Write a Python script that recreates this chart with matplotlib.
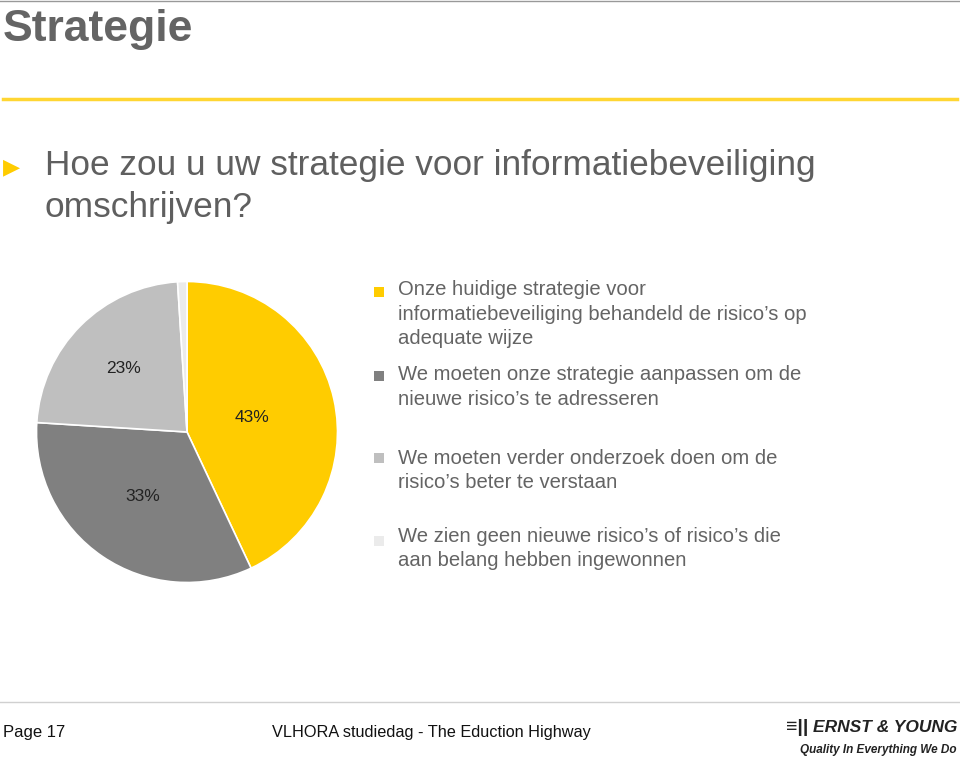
import matplotlib
matplotlib.use("Agg")
import matplotlib.pyplot as plt
from matplotlib.patches import Rectangle
import numpy as np

plt.rcParams['font.family'] = ['Liberation Sans', 'DejaVu Sans']

# Data
answers = [
    "Onze huidige strategie voor\ninformatiebeveiliging behandeld de risico\u2019s op\nadequate wijze",
    "We moeten onze strategie aanpassen om de\nnieuwe risico\u2019s te adresseren",
    "We moeten verder onderzoek doen om de\nrisico\u2019s beter te verstaan",
    "We zien geen nieuwe risico\u2019s of risico\u2019s die\naan belang hebben ingewonnen",
]
shares = [43, 33, 23, 1]
colors = ["#FFCC00", "#808080", "#BFBFBF", "#EBEBEB"]
label_dist = [0.44, 0.52, 0.6, 0.6]

W, H = 960, 759
fig = plt.figure(figsize=(9.6, 7.59), dpi=100)

def fx(px):
    return px / W

def fy(py):
    return 1 - py / H

# header
fig.add_artist(plt.Line2D([0, 1], [fy(1), fy(1)], color="#999999", lw=1))
fig.text(fx(3), fy(29), "Strategie", fontsize=32, fontweight="bold",
         color="#646464", va="center", ha="left")
fig.add_artist(plt.Line2D([fx(3), fx(957)], [fy(99), fy(99)], color="#FFD633", lw=2.5))

fig.text(fx(3), fy(167), "\u25B6", fontsize=16, color="#FFCC00", va="center",
         family=['DejaVu Sans'])
fig.text(fx(45), fy(165), "Hoe zou u uw strategie voor informatiebeveiliging",
         fontsize=25.4, color="#5F5F5F", va="center")
fig.text(fx(45), fy(208), "omschrijven?", fontsize=25.4, color="#5F5F5F", va="center")

# pie
cx, cy, r = 187, 432, 152
ax = fig.add_axes([fx(cx - r), fy(cy + r), 2 * r / W, 2 * r / H])
wedges, _, pcts = ax.pie(shares, colors=colors, startangle=90, counterclock=False,
                         autopct=lambda p: f"{p:.0f}%" if p > 5 else "",
                         wedgeprops=dict(edgecolor="white", linewidth=1.2),
                         textprops=dict(fontsize=12.5, color="#222222"))
for w, t, d in zip(wedges, pcts, label_dist):
    ang = np.deg2rad((w.theta1 + w.theta2) / 2)
    t.set_position((d * np.cos(ang), d * np.sin(ang)))
ax.set_xlim(-1.01, 1.01)
ax.set_ylim(-1.01, 1.01)
ax.set_aspect("equal")
ax.axis("off")

# legend
line_h = 24.5
starts = [290, 375, 458, 536]
marker_y = [292, 376, 458, 541]
for txt, col, y0, my in zip(answers, colors, starts, marker_y):
    fig.add_artist(Rectangle((fx(374), fy(my + 5)), 10 / W, 10 / H,
                             facecolor=col, edgecolor="none", transform=fig.transFigure))
    for i, line in enumerate(txt.split("\n")):
        fig.text(fx(398), fy(y0 + i * line_h), line, fontsize=14.6,
                 color="#646464", va="center", ha="left")

# footer
fig.add_artist(plt.Line2D([0, 1], [fy(702), fy(702)], color="#D0D0D0", lw=1))
fig.text(fx(3), fy(733), "Page 17", fontsize=12, color="#111111", va="center")
fig.text(fx(272), fy(733), "VLHORA studiedag - The Eduction Highway", fontsize=11.7,
         color="#111111", va="center")
fig.text(fx(786), fy(728), "\u2261||", fontsize=14, fontweight="bold",
         color="#222222", va="center", ha="left")
fig.text(fx(957), fy(728), "ERNST & YOUNG", fontsize=12.5, fontweight="bold",
         fontstyle="italic", color="#222222", va="center", ha="right")
fig.text(fx(956), fy(750), "Quality In Everything We Do", fontsize=8.5,
         fontweight="bold", fontstyle="italic", color="#222222", va="center", ha="right")

fig.savefig("out.png", dpi=100, facecolor="white")
